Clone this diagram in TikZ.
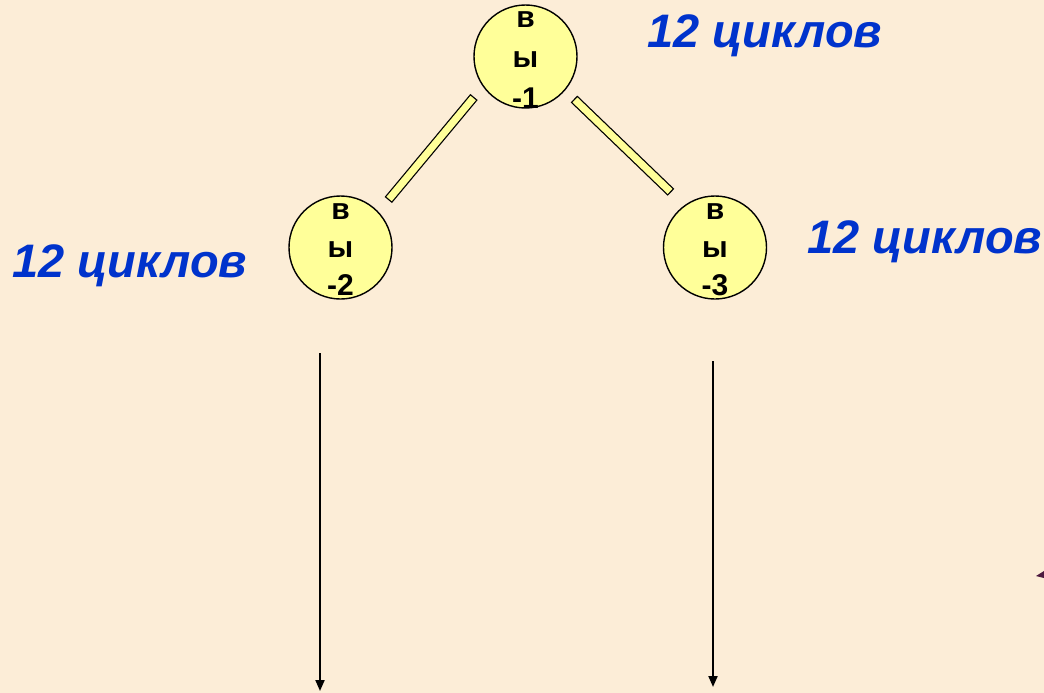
\documentclass[tikz,border=0pt]{standalone}
\usepackage{fontspec}
\setmainfont{Liberation Sans}
\usetikzlibrary{arrows.meta}
\definecolor{bgc}{HTML}{FCEDD7}
\definecolor{ballfill}{HTML}{FFFF99}
\definecolor{cycblue}{HTML}{0033CC}
\definecolor{markc}{HTML}{4D1A40}
\begin{document}
\begin{tikzpicture}[x=1pt,y=-1pt,
  ballnode/.style={circle, draw, line width=1.4pt, fill=ballfill, minimum size=103pt, inner sep=0pt},
  lbl/.style={font=\bfseries\fontsize{30}{30}\selectfont, inner sep=0pt, anchor=base},
  cyc/.style={font=\bfseries\itshape\fontsize{47}{47}\selectfont, text=cycblue, inner sep=0pt, anchor=base west},
  barout/.style={line width=9.5pt, draw=black},
  barin/.style={line width=7pt, draw=ballfill, shorten <=1.3pt, shorten >=1.3pt},
  arr/.style={line width=2pt, -{Triangle[length=11pt,width=9pt]}}]
\fill[bgc] (0,0) rectangle (1044,693);
\useasboundingbox (0,0) rectangle (1044,693);

% bars
\coordinate (b1s) at (474,97);
\coordinate (b1e) at (388.3,200);
\coordinate (b2s) at (574,99);
\coordinate (b2e) at (671,192.3);
\draw[barout] (b1s) -- (b1e);
\draw[barin] (b1s) -- (b1e);
\draw[barout] (b2s) -- (b2e);
\draw[barin] (b2s) -- (b2e);

% balls
\node[ballnode] (c1) at (525.5,56.5) {};
\node[ballnode] (c2) at (340.5,247.5) {};
\node[ballnode] (c3) at (715,247.5) {};

\node[lbl] (c1a) at (525.5,28) {в};
\node[lbl] (c1b) at (525.5,67) {ы};
\node[lbl] (c1c) at (525.5,108) {-1};
\node[lbl] (c2a) at (340.5,219) {в};
\node[lbl] (c2b) at (340.5,257) {ы};
\node[lbl] (c2c) at (340.5,295) {-2};
\node[lbl] (c3a) at (715,219) {в};
\node[lbl] (c3b) at (715,257) {ы};
\node[lbl] (c3c) at (715,295) {-3};

% cycle labels
\node[cyc] (t1) at (647,48) {12 циклов};
\node[cyc] (t2) at (12,277) {12 циклов};
\node[cyc] (t3) at (807,253) {12 циклов};

% arrows
\coordinate (a2s) at (320,353);
\coordinate (a2e) at (320,691);
\coordinate (a3s) at (713,361);
\coordinate (a3e) at (713,687);
\draw[arr] (a2s) -- (a2e);
\draw[arr] (a3s) -- (a3e);

% small fragment at right edge
\fill[markc] (1036,576) -- (1044,571) -- (1044,578) -- cycle;
\end{tikzpicture}
\end{document}
